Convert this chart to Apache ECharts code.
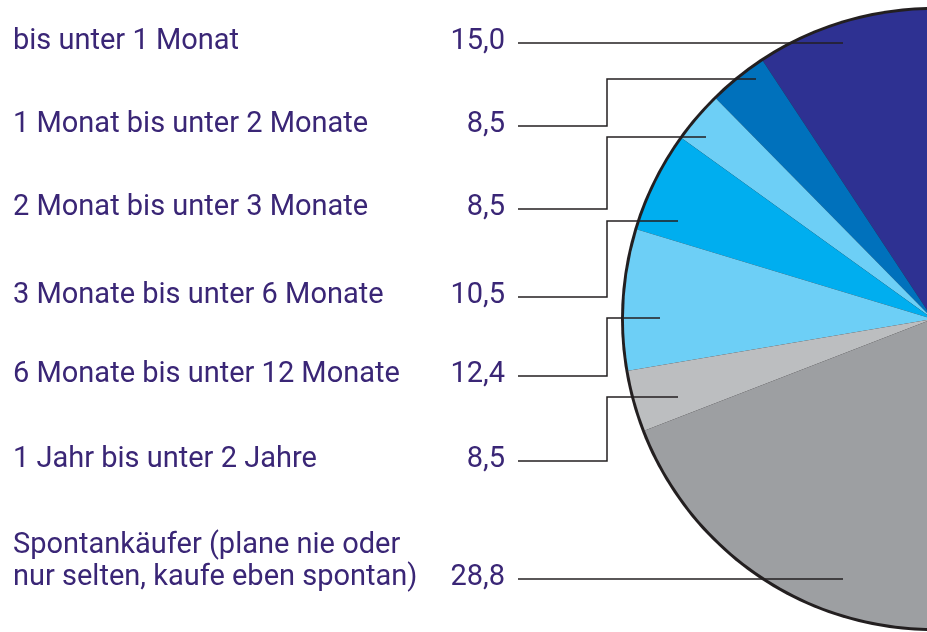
<!DOCTYPE html>
<html style="height: 100%">
<head>
    <meta charset="utf-8">
    <script src="https://cdn.jsdelivr.net/npm/echarts@6/dist/echarts.min.js"></script>
</head>
<body style="height: 100%; margin: 0; background: #fff">
    <div id="main" style="width: 927px; height: 632px;"></div>
    <script type="text/javascript">
    // categories and the printed values
    var categories = [
        'bis unter 1 Monat',
        '1 Monat bis unter 2 Monate',
        '2 Monat bis unter 3 Monate',
        '3 Monate bis unter 6 Monate',
        '6 Monate bis unter 12 Monate',
        '1 Jahr bis unter 2 Jahre',
        'Spontankäufer (plane nie oder\nnur selten, kaufe eben spontan)'
    ];
    var labelValues = [15.0, 8.5, 8.5, 10.5, 12.4, 8.5, 28.8];
    // slice shares as drawn in the picture (in %)
    var sliceShares = [20.0, 3.1, 2.7, 5.25, 7.35, 3.2, 58.4];
    var colors = ['#2e3192', '#0071bc', '#6dcff6', '#00aeef', '#6dcff6', '#bcbec0', '#9d9fa2'];

    // layout of the label rows and leader lines (pixels)
    var rowLineY = [43, 126, 209, 297, 376, 461, 579];
    var labelY = [42, 125, 208, 296, 375, 460, 562];
    var leaderTarget = [[843, 43], [756, 79], [706, 137], [678, 221], [660, 318], [678, 397], [843, 579]];
    var elbowX = 607;
    var lineStartX = 518;

    var myChart = echarts.init(document.getElementById('main'));

    function fmt(v) {
        return v.toFixed(1).replace('.', ',');
    }

    var pieData = sliceShares.map(function (v, i) {
        return { name: categories[i], value: v, itemStyle: { color: colors[i] } };
    });

    // leader lines, drawn on top of the pie
    var leaders = leaderTarget.map(function (t, i) {
        var y = rowLineY[i];
        var pts;
        if (Math.abs(t[1] - y) < 2) {
            pts = [[lineStartX, y], [t[0], y]];
        } else {
            pts = [[lineStartX, y], [elbowX, y], [elbowX, t[1]], [t[0], t[1]]];
        }
        return {
            type: 'polyline',
            silent: true,
            z: 100,
            shape: { points: pts },
            style: { stroke: '#231f20', lineWidth: 1.5, fill: null }
        };
    });

    var option = {
        animation: false,
        textStyle: { fontFamily: 'Roboto' },
        graphic: leaders,
        series: [
            {
                // dark rim of the pie
                type: 'pie',
                silent: true,
                center: [933, 319],
                radius: 312,
                z: 1,
                label: { show: false },
                labelLine: { show: false },
                emphasis: { disabled: true },
                data: [{ value: 1, itemStyle: { color: '#231f20' } }]
            },
            {
                type: 'pie',
                silent: true,
                center: [933, 319],
                radius: 309,
                startAngle: 51.4,
                clockwise: false,
                z: 2,
                avoidLabelOverlap: false,
                itemStyle: { borderWidth: 0 },
                emphasis: { disabled: true },
                label: {
                    show: true,
                    position: 'outside',
                    width: 492,
                    color: '#3a2676',
                    formatter: function (p) {
                        return '{n|' + categories[p.dataIndex] + '}{v|' + fmt(labelValues[p.dataIndex]) + '}';
                    },
                    rich: {
                        n: { fontSize: 29, fontFamily: 'Roboto', color: '#3a2676', lineHeight: 32, align: 'left' },
                        v: { fontSize: 29, fontFamily: 'Roboto', color: '#3a2676', lineHeight: 32, align: 'right' }
                    }
                },
                labelLine: { show: false },
                labelLayout: function (params) {
                    var i = params.dataIndex;
                    return {
                        x: 13,
                        y: labelY[i],
                        align: 'left',
                        verticalAlign: 'middle'
                    };
                },
                data: pieData
            }
        ]
    };

    option && myChart.setOption(option);
    </script>
</body>
</html>
